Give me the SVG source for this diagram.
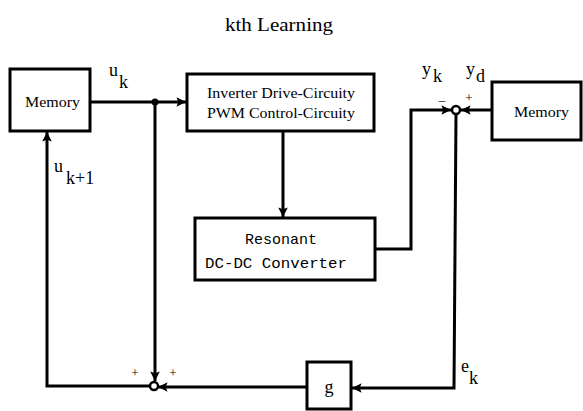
<svg xmlns="http://www.w3.org/2000/svg" width="583" height="411" viewBox="0 0 583 411">
<style>
.box{fill:#fff;stroke:#000;stroke-width:3}
.ln{fill:none;stroke:#000;stroke-width:3}
.sum{fill:#fff;stroke:#000;stroke-width:2.5}
.t{font-family:"Liberation Serif",serif;fill:#000}
.m{font-family:"Liberation Mono",monospace;fill:#000}
</style>
<defs>
<marker id="ah" viewBox="0 0 10 10" refX="10" refY="5" markerWidth="3.2" markerHeight="3.2" orient="auto" markerUnits="strokeWidth">
<path d="M0,0 L10,5 L0,10 L2,5 Z" fill="#000"/>
</marker>
</defs>
<rect width="583" height="411" fill="#fff"/>
<text class="t" x="225" y="31" font-size="19" textLength="108" lengthAdjust="spacingAndGlyphs">kth Learning</text>

<g id="connectors">
<path class="ln" d="M90,102 H186" marker-end="url(#ah)"/>
<circle cx="155" cy="102" r="3.5" fill="#000"/>
<path class="ln" d="M155,102 V381" marker-end="url(#ah)"/>
<path class="ln" d="M283,131 V217" marker-end="url(#ah)"/>
<path class="ln" d="M375,249 H411 V110 H451" marker-end="url(#ah)"/>
<path class="ln" d="M492,110 H461" marker-end="url(#ah)"/>
<path class="ln" d="M456,114 L454,388 H352" marker-end="url(#ah)"/>
<path class="ln" d="M307,387 H158" marker-end="url(#ah)"/>
<path class="ln" d="M149,386 H47 V132" marker-end="url(#ah)"/>
<circle class="sum" cx="456" cy="110" r="4"/>
<circle class="sum" cx="154" cy="386" r="4"/>
</g>

<g id="memory-left">
<rect class="box" x="10" y="69" width="80" height="62"/>
<text class="t" x="25" y="107" font-size="15" textLength="55" lengthAdjust="spacingAndGlyphs">Memory</text>
</g>
<g id="inverter">
<rect class="box" x="187" y="74" width="187" height="57"/>
<text class="t" x="207" y="98" font-size="15.5" textLength="148" lengthAdjust="spacingAndGlyphs">Inverter Drive-Circuity</text>
<text class="t" x="207" y="118" font-size="15.5" textLength="148" lengthAdjust="spacingAndGlyphs">PWM Control-Circuity</text>
</g>
<g id="converter">
<rect class="box" x="195" y="218" width="180" height="62"/>
<text class="m" x="245" y="244" font-size="15" textLength="72" lengthAdjust="spacingAndGlyphs">Resonant</text>
<text class="m" x="205" y="268" font-size="15" textLength="142" lengthAdjust="spacingAndGlyphs">DC-DC Converter</text>
</g>
<g id="memory-right">
<rect class="box" x="492" y="82" width="89" height="58"/>
<text class="t" x="514" y="117" font-size="15" textLength="55" lengthAdjust="spacingAndGlyphs">Memory</text>
</g>
<g id="g-block">
<rect class="box" x="307" y="362" width="44" height="47"/>
<text class="t" x="329" y="393" font-size="18" text-anchor="middle">g</text>
</g>

<g id="labels">
<text class="t" x="109" y="76" font-size="18">u</text>
<text class="t" x="119" y="88" font-size="18">k</text>
<text class="t" x="54" y="172" font-size="18">u</text>
<text class="t" x="66" y="184" font-size="18">k+1</text>
<text class="t" x="422" y="75" font-size="18">y</text>
<text class="t" x="433" y="82" font-size="18">k</text>
<text class="t" x="466" y="75" font-size="18">y</text>
<text class="t" x="476" y="82" font-size="18">d</text>
<text class="t" x="442" y="104" font-size="13" text-anchor="middle">–</text>
<text class="t" x="469" y="102" font-size="13" text-anchor="middle">+</text>
<text class="t" x="135" y="377" font-size="13" text-anchor="middle">+</text>
<text class="t" x="173" y="377" font-size="13" text-anchor="middle">+</text>
<text class="t" x="461" y="372" font-size="18">e</text>
<text class="t" x="469" y="384" font-size="18">k</text>
</g>
</svg>
